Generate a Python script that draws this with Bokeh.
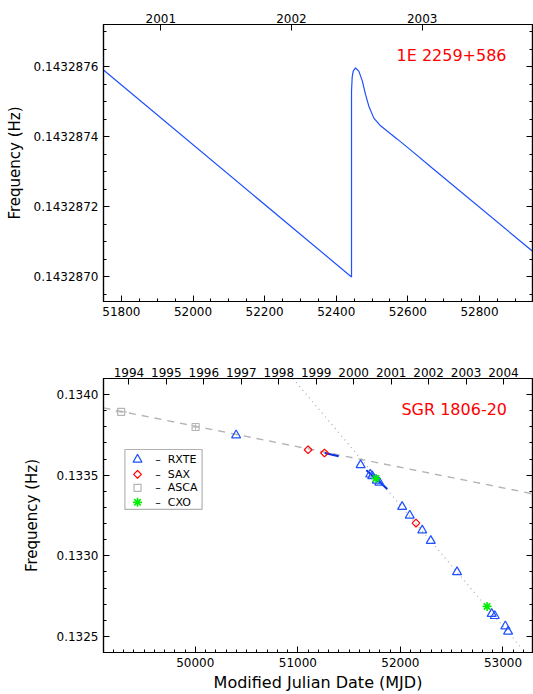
from bokeh.plotting import figure
from bokeh.models import (Range1d, LinearAxis, SingleIntervalTicker, FixedTicker,
                          PrintfTickFormatter, CustomJSTickFormatter, Label,
                          BoxAnnotation)
from bokeh.core.properties import value
from bokeh.layouts import column
from bokeh.embed import file_html
from bokeh.resources import INLINE
import math

FONT = "DejaVu Sans"
BLUE = "#1e50ff"
RED = "#ff0000"
GREEN = "#00ee00"
GRAY = "#b4b4b4"

# ---------------- data: 1E 2259+586 glitch model ----------------
glitch_mjd = [51750, 52442.6, 52442.6, 52444.5, 52447.3, 52453.8, 52463.0, 52472.5,
              52481.8, 52491.0, 52505.0, 52523.8, 52547.1, 52570.6, 52603.1,
              52668.6, 52949.6]
glitch_freq = [0.14328759, 0.14328700, 0.14328753, 0.14328757, 0.143287587,
               0.143287596, 0.143287587, 0.14328756, 0.14328752, 0.143287487,
               0.143287453, 0.143287431, 0.143287412, 0.143287393, 0.143287366,
               0.143287310, 0.143287072]
top_years = ["2001", "2002", "2003"]
top_year_mjd = [51910, 52275, 52640]

# ---------------- data: SGR 1806-20 ----------------
rxte_mjd = [50398, 51612, 51705, 51725, 51770, 51795, 52017, 52091, 52213, 52296,
            52552, 52890, 52920, 53023, 53050]
rxte_freq = [0.133748, 0.133563, 0.133505, 0.133495, 0.133467, 0.133455, 0.133304,
             0.133250, 0.133158, 0.133093, 0.132899, 0.132640, 0.132627, 0.132563,
             0.132530]
sax_mjd = [51100, 51260, 52152]
sax_freq = [0.133658, 0.133638, 0.133203]
asca_mjd = [49277, 50003]
asca_freq = [0.133893, 0.133799]
asca_xerr = [55, 30]
asca_yerr = [0.000006, 0.000018]
cxo_mjd = [51762, 52845]
cxo_freq = [0.133480, 0.132686]
seg1_mjd = [51262, 51398]
seg1_freq = [0.133638, 0.133618]
seg2_mjd = [51668, 51872]
seg2_freq = [0.133530, 0.133414]
fit_early_mjd = [49105, 53288]
fit_early_freq = [0.133918, 0.133385]
fit_late_mjd = [50951, 53172]
fit_late_freq = [0.134100, 0.132434]
bot_years = ["1994", "1995", "1996", "1997", "1998", "1999", "2000", "2001",
             "2002", "2003", "2004"]
bot_year_mjd = [49353, 49718, 50083, 50449, 50814, 51179, 51544, 51910, 52275,
                52640, 53005]
legend_names = ["RXTE", "SAX", "ASCA", "CXO"]


def style_axis(ax, labels=True):
    ax.major_tick_in = 6
    ax.major_tick_out = 0
    ax.minor_tick_in = 3
    ax.minor_tick_out = 0
    ax.axis_line_color = "black"
    ax.axis_line_width = 1.2
    ax.major_tick_line_color = "black"
    ax.minor_tick_line_color = "black"
    ax.major_label_text_font = FONT
    ax.major_label_text_font_size = "12px"
    ax.major_label_text_color = "black"
    ax.axis_label_text_font = FONT
    ax.axis_label_text_font_style = "normal"
    ax.axis_label_text_color = "black"
    if not labels:
        ax.formatter = CustomJSTickFormatter(code="return ''")
        ax.major_label_standoff = 0


def make_fig(xr, yr, h, mtop, mbottom, xtick, xminor, ytick, yminor, yfmt,
             years, year_mjd, ylabel_standoff):
    p = figure(width=533, height=h, x_range=Range1d(*xr), y_range=Range1d(*yr),
               output_backend="svg", toolbar_location=None,
               min_border_left=103, min_border_right=1, min_border_top=mtop,
               min_border_bottom=mbottom)
    p.xgrid.visible = False
    p.ygrid.visible = False
    p.outline_line_color = "black"
    p.outline_line_width = 1.2
    p.background_fill_color = "white"
    p.border_fill_color = "white"
    bx = p.below[0]
    ly = p.left[0]
    xt = SingleIntervalTicker(interval=xtick, num_minor_ticks=xminor)
    yt = SingleIntervalTicker(interval=ytick, num_minor_ticks=yminor)
    bx.ticker = xt
    ly.ticker = yt
    ly.formatter = PrintfTickFormatter(format=yfmt)
    style_axis(bx)
    style_axis(ly)
    bx.major_label_standoff = 5
    ly.major_label_standoff = 5
    ly.axis_label = "Frequency (Hz)"
    ly.axis_label_text_font_size = "15px"
    ly.axis_label_standoff = ylabel_standoff
    ra = LinearAxis(ticker=yt)
    style_axis(ra, labels=False)
    p.add_layout(ra, "right")
    ta = LinearAxis(ticker=FixedTicker(ticks=year_mjd, minor_ticks=[]),
                    major_label_overrides={m: y for m, y in zip(year_mjd, years)})
    style_axis(ta)
    ta.major_label_standoff = 2
    p.add_layout(ta, "above")
    return p, bx


# ---------------- top panel ----------------
p1, _ = make_fig((51750, 52948), (0.14328693, 0.14328772), 340, 24, 39,
                 200, 4, 2e-7, 4, "%.7f", top_years, top_year_mjd, 7)
p1.line(glitch_mjd, glitch_freq, line_color=BLUE, line_width=1.2)
x0, x1 = p1.x_range.start, p1.x_range.end
y0, y1 = p1.y_range.start, p1.y_range.end
p1.add_layout(Label(x=x0 + 0.9395 * (x1 - x0), y=y1 - 0.113 * (y1 - y0),
                    text="1E 2259+586", text_color=RED, text_font=FONT,
                    text_font_size="16px", text_align="right",
                    text_baseline="middle"))

# ---------------- bottom panel ----------------
p2, bx2 = make_fig((49105, 53288), (0.13240, 0.13410), 354, 38, 39,
                   1000, 10, 0.0005, 5, "%.4f", bot_years, bot_year_mjd, 13)
bx2.axis_label = "Modified Julian Date (MJD)"
bx2.axis_label_text_font_size = "16px"
bx2.axis_label_standoff = 3
bx2.major_label_standoff = 5

p2.line(fit_early_mjd, fit_early_freq, line_color=GRAY, line_width=1.4,
        line_dash="7 6")
p2.line(fit_late_mjd, fit_late_freq, line_color=GRAY, line_width=1.4,
        line_dash="1 4")
p2.line(seg1_mjd, seg1_freq, line_color="#0030e0", line_width=2)
p2.line(seg2_mjd, seg2_freq, line_color="#0030e0", line_width=2)

# ASCA error bars
p2.segment(x0=[m - e for m, e in zip(asca_mjd, asca_xerr)], y0=asca_freq,
           x1=[m + e for m, e in zip(asca_mjd, asca_xerr)], y1=asca_freq,
           line_color=GRAY, line_width=1)
p2.segment(x0=asca_mjd, y0=[f - e for f, e in zip(asca_freq, asca_yerr)],
           x1=asca_mjd, y1=[f + e for f, e in zip(asca_freq, asca_yerr)],
           line_color=GRAY, line_width=1)

marker_styles = {
    "ASCA": dict(marker="square", size=7, line_color=GRAY, fill_alpha=0,
                 line_width=1.2, angle=0),
    "SAX": dict(marker="square", size=5.5, line_color=RED, fill_alpha=0,
                line_width=1.2, angle=math.pi / 4),
    "RXTE": dict(marker="triangle", size=9, line_color=BLUE, fill_alpha=0,
                 line_width=1.2, angle=0),
    "CXO": dict(marker="asterisk", size=9, line_color=GREEN, line_width=1.6,
                angle=0),
}
p2.scatter(asca_mjd, asca_freq, **marker_styles["ASCA"])
p2.scatter(sax_mjd, sax_freq, **marker_styles["SAX"])
p2.scatter(rxte_mjd, rxte_freq, **marker_styles["RXTE"])
p2.scatter(cxo_mjd, cxo_freq, **marker_styles["CXO"])

X0, X1 = p2.x_range.start, p2.x_range.end
Y0, Y1 = p2.y_range.start, p2.y_range.end


def fx(f):
    return X0 + f * (X1 - X0)


def fy(f):
    return Y1 - f * (Y1 - Y0)


p2.add_layout(Label(x=fx(0.9406), y=fy(0.114),
                    text="SGR 1806-20", text_color=RED, text_font=FONT,
                    text_font_size="16px", text_align="right",
                    text_baseline="middle"))

# legend box (positions as fractions of the frame)
p2.add_layout(BoxAnnotation(left=fx(0.0499), right=fx(0.2298), top=fy(0.2592),
                            bottom=fy(0.4773), fill_alpha=0, line_color="black",
                            line_width=1.2, level="underlay"))
row_f = [0.296, 0.350, 0.399, 0.452]
for name, rf in zip(legend_names, row_f):
    p2.scatter([fx(0.0793)], [fy(rf)], **marker_styles[name])
    p2.text([fx(0.1205)], [fy(rf)], text=["–"], text_font=value(FONT),
            text_font_size="11px", text_baseline="middle", text_align="left",
            text_color="black")
    p2.text([fx(0.1497)], [fy(rf)], text=[name], text_font=value(FONT),
            text_font_size="11px", text_baseline="middle", text_align="left",
            text_color="black")

layout = column(p1, p2, spacing=0)
open("out.html", "w").write(file_html(layout, INLINE))
